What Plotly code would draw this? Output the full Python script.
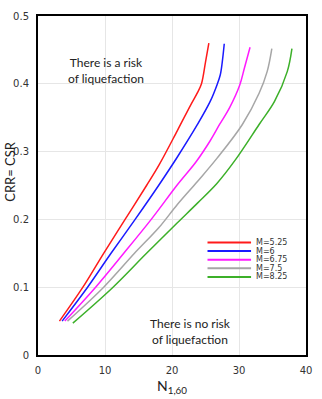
import plotly.graph_objects as go

# Magnitude-scaled CRR curves (CRR vs corrected blow count N1,60)
magnitudes = ["M=5.25", "M=6", "M=6.75", "M=7.5", "M=8.25"]
colors = ["#ff1a1a", "#1a1aff", "#ff1aff", "#a6a6a6", "#3cb029"]

n_m525 = [3.2, 6.7, 9.8, 13.0, 16.2, 18.05, 20.8, 22.8, 23.8, 24.4, 25.0, 25.5]
crr_m525 = [0.05, 0.10, 0.15, 0.20, 0.25, 0.28, 0.331, 0.369, 0.387, 0.40, 0.432, 0.46]

n_m6 = [3.6, 7.4, 10.9, 14.5, 18.0, 20.8, 23.8, 25.7, 26.7, 27.2, 27.5, 27.8]
crr_m6 = [0.05, 0.10, 0.15, 0.20, 0.25, 0.292, 0.34, 0.374, 0.398, 0.413, 0.432, 0.459]

n_m675 = [4.0, 8.6, 12.8, 16.9, 20.8, 23.6, 25.7, 27.1, 28.6, 30.1, 30.8, 31.65]
crr_m675 = [0.05, 0.10, 0.15, 0.20, 0.251, 0.285, 0.316, 0.34, 0.365, 0.398, 0.423, 0.454]

n_m75 = [4.4, 9.8, 14.4, 18.05, 20.8, 23.8, 26.7, 30.5, 33.0, 34.2, 34.9]
crr_m75 = [0.05, 0.10, 0.15, 0.188, 0.222, 0.256, 0.29, 0.34, 0.386, 0.418, 0.452]

n_m825 = [5.2, 11.2, 16.2, 20.8, 23.8, 26.7, 29.4, 33.0, 35.3, 37.2, 37.9]
crr_m825 = [0.047, 0.10, 0.15, 0.195, 0.224, 0.253, 0.287, 0.34, 0.374, 0.418, 0.452]

curves_n = [n_m525, n_m6, n_m675, n_m75, n_m825]
curves_crr = [crr_m525, crr_m6, crr_m675, crr_m75, crr_m825]

x_ticks = [0, 10, 20, 30, 40]
y_ticks = [0, 0.1, 0.2, 0.3, 0.4, 0.5]
y_tick_text = ["0", "0.1", "0.2", "0.3", "0.4", "0.5"]

fig = go.Figure()
for name, col, xs, ys in zip(magnitudes, colors, curves_n, curves_crr):
    fig.add_trace(go.Scatter(
        x=xs, y=ys, mode="lines", name=name,
        line=dict(color=col, width=1.5, shape="spline", smoothing=1.0),
        showlegend=False,
    ))

# Hand-built legend inside the plot area
leg_x0, leg_x1 = 25.3, 31.8
leg_y_top, leg_step = 0.166, 0.0127
for i, (name, col) in enumerate(zip(magnitudes, colors)):
    yy = leg_y_top - i * leg_step
    fig.add_shape(type="line", x0=leg_x0, x1=leg_x1, y0=yy, y1=yy,
                  xref="x", yref="y", line=dict(color=col, width=2))
    fig.add_annotation(x=leg_x1 + 0.4, y=yy, xref="x", yref="y", text=name,
                       showarrow=False, xanchor="left", yanchor="middle",
                       font=dict(family="DejaVu Sans", size=8, color="#333333"))

region_font = dict(family="Lato", size=12, color="#222222")
fig.add_annotation(x=10.1, y=0.42, xref="x", yref="y",
                   text="There is a risk<br>of liquefaction", showarrow=False,
                   align="center", font=region_font)
fig.add_annotation(x=22.7, y=0.035, xref="x", yref="y",
                   text="There is no risk<br>of liquefaction", showarrow=False,
                   align="center", font=region_font)

# Axis titles
plot_w = 322 - 38 - 11
plot_h = 399 - 10 - 44
fig.add_annotation(x=(10 - 38) / plot_w, y=(399 - 44 - 168) / plot_h,
                   xref="paper", yref="paper", text="CRR= CSR",
                   showarrow=False, textangle=-90,
                   xanchor="center", yanchor="middle",
                   font=dict(family="Lato", size=13, color="#222222"))
fig.add_annotation(xref="x", yref="paper", x=20, y=-0.058,
                   text="N<sub>1,60</sub>", showarrow=False,
                   xanchor="center", yanchor="top",
                   font=dict(family="Lato", size=14, color="#222222"))

axis_common = dict(
    showgrid=True, gridcolor="#e6e6e6", gridwidth=1,
    showline=True, linecolor="black", linewidth=2, mirror=True,
    zeroline=False, ticks="",
    tickfont=dict(family="DejaVu Sans", size=10, color="#333333"),
)

fig.update_xaxes(range=[0, 40], tickvals=x_ticks, ticklabelstandoff=5, **axis_common)
fig.update_yaxes(range=[0, 0.5], tickvals=y_ticks, ticktext=y_tick_text,
                 ticklabelstandoff=5, **axis_common)

fig.update_layout(
    width=322, height=399,
    margin=dict(l=38, r=11, t=10, b=44),
    paper_bgcolor="white", plot_bgcolor="white",
)

fig.write_html("out.html")
